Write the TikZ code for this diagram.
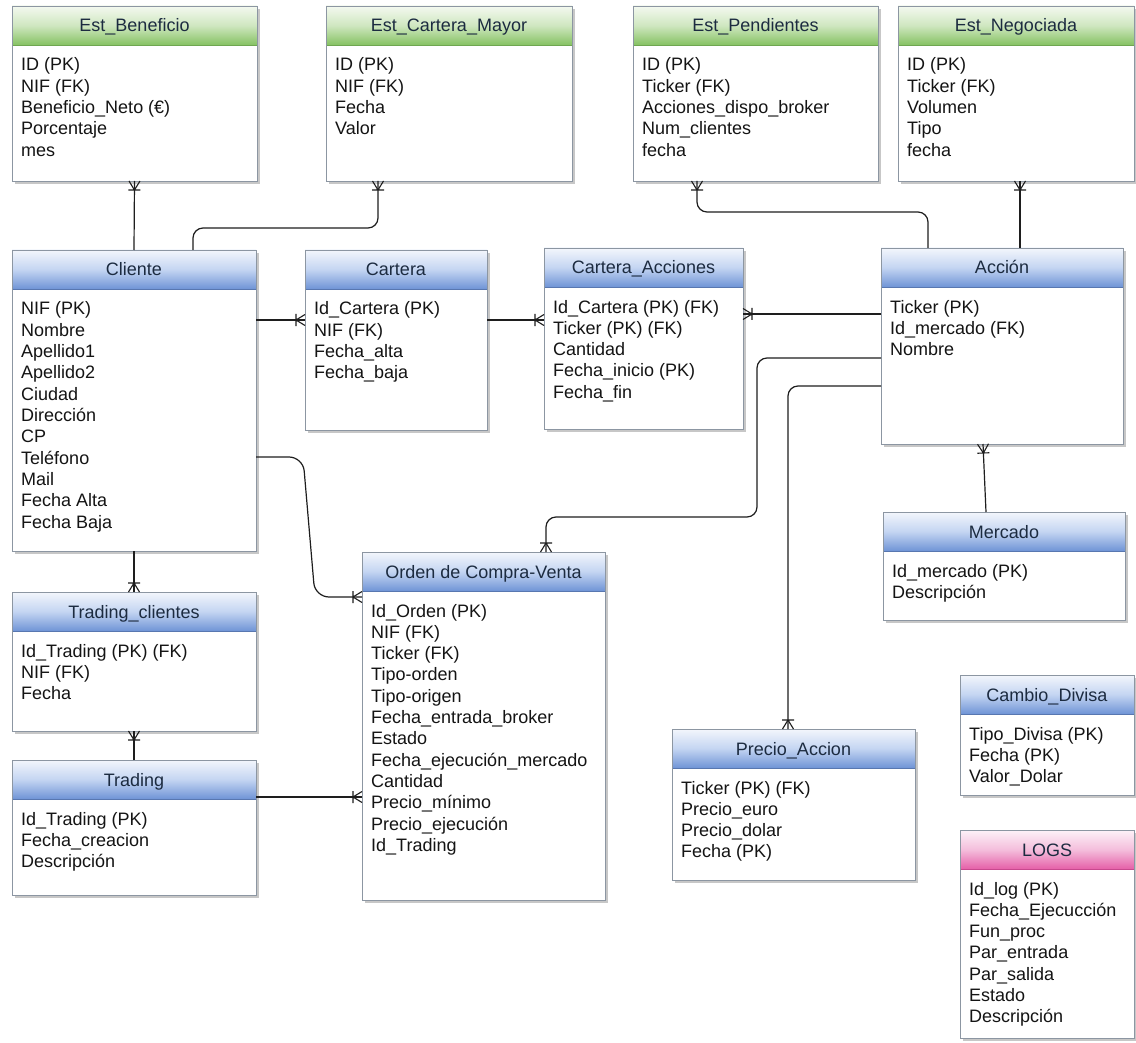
\documentclass[tikz,border=0pt]{standalone}
\usepackage{fontspec}
\setmainfont{Liberation Sans}
\usetikzlibrary{calc,shadows,decorations.markings}

\definecolor{edgegray}{HTML}{8C96A2}
\definecolor{linec}{HTML}{1E1E1E}
\definecolor{titlec}{HTML}{1C2B40}
\definecolor{rowc}{HTML}{141414}
\definecolor{blueT}{HTML}{F3F6FC}
\definecolor{blueM}{HTML}{C4D5F2}
\definecolor{blueB}{HTML}{6F94D6}
\definecolor{blueL}{HTML}{5877B0}
\definecolor{greenT}{HTML}{F4F9F0}
\definecolor{greenM}{HTML}{CFE7C0}
\definecolor{greenB}{HTML}{86C263}
\definecolor{greenL}{HTML}{6FA651}
\definecolor{pinkT}{HTML}{FDF2F8}
\definecolor{pinkM}{HTML}{F4BEDC}
\definecolor{pinkB}{HTML}{E560A8}
\definecolor{pinkL}{HTML}{C8488E}

\tikzset{
  tbl/.style={draw=edgegray, line width=0.8pt, fill=white, outer sep=0pt, inner sep=0pt,
    drop shadow={shadow xshift=2.5pt, shadow yshift=-3pt, fill=black, opacity=0.22}},
  hdrblue/.style={top color=blueT, bottom color=blueB, middle color=blueM},
  hdrgreen/.style={top color=greenT, bottom color=greenB, middle color=greenM},
  hdrpink/.style={top color=pinkT, bottom color=pinkB, middle color=pinkM},
  lineblue/.style={draw=blueL},
  linegreen/.style={draw=greenL},
  linepink/.style={draw=pinkL},
  ttl/.style={anchor=base, inner sep=0pt, text=titlec, font=\fontsize{18}{21.3}\selectfont},
  rowtxt/.style={anchor=base west, inner sep=0pt, text=rowc, font=\fontsize{18}{21.3}\selectfont},
  rel/.style={draw=linec, line width=1.2pt, rounded corners=10pt,
    postaction={decorate},
    decoration={markings, mark=at position 1 with {
      \draw[linec, line width=1.1pt, sharp corners]
        (-9,0) -- (0,5.5) (-9,0) -- (0,-5.5) (-9,-6) -- (-9,6);}}},
}

% table: name, x, y, width, height, colour scheme, title, rows
\newcommand\ertable[8]{%
  \node[tbl, minimum width=#4, minimum height=#5, anchor=north west] (#1) at (#2,#3) {};
  \shade[hdr#6] (#1.north west) rectangle ($(#1.north east)+(0,39)$);
  \draw[line#6, line width=0.8pt] ($(#1.north west)+(0,39)$) -- ($(#1.north east)+(0,39)$);
  \draw[edgegray, line width=0.8pt] (#1.north west) rectangle (#1.south east);
  \node[ttl] (#1-t) at ($(#1.north)+(0,26)$) {#7};
  \foreach \r [count=\i] in {#8}
    \node[rowtxt] (#1-r\i) at ($(#1.north west)+(9,{43.7+21.3*\i})$) {\r};
}

\begin{document}
\begin{tikzpicture}[x=1pt, y=-1pt]
\useasboundingbox[fill=white] (0,0) rectangle (1136,1043);

% statistics tables
\ertable{ben}{12}{6}{245}{175}{green}{Est\_Beneficio}
  {ID (PK), NIF (FK), Beneficio\_Neto (€), Porcentaje, mes}
\ertable{ecm}{326}{6}{246}{175}{green}{Est\_Cartera\_Mayor}
  {ID (PK), NIF (FK), Fecha, Valor}
\ertable{epe}{633}{6}{245}{175}{green}{Est\_Pendientes}
  {ID (PK), Ticker (FK), Acciones\_dispo\_broker, Num\_clientes, fecha}
\ertable{eng}{898}{6}{236}{175}{green}{Est\_Negociada}
  {ID (PK), Ticker (FK), Volumen, Tipo, fecha}

% core tables
\ertable{cli}{12}{250}{244}{301}{blue}{Cliente}
  {NIF (PK), Nombre, Apellido1, Apellido2, Ciudad, Dirección, CP, Teléfono, Mail, Fecha Alta, Fecha Baja}
\ertable{car}{305}{250}{182}{180}{blue}{Cartera}
  {Id\_Cartera (PK), NIF (FK), Fecha\_alta, Fecha\_baja}
\ertable{cac}{544}{248}{199}{181}{blue}{Cartera\_Acciones}
  {Id\_Cartera (PK) (FK), Ticker (PK) (FK), Cantidad, Fecha\_inicio (PK), Fecha\_fin}
\ertable{acc}{881}{248}{242}{196}{blue}{Acción}
  {Ticker (PK), Id\_mercado (FK), Nombre}
\ertable{mer}{883}{512}{242}{108}{blue}{Mercado}
  {Id\_mercado (PK), Descripción}
\ertable{trc}{12}{592}{244}{139}{blue}{Trading\_clientes}
  {Id\_Trading (PK) (FK), NIF (FK), Fecha}
\ertable{tra}{12}{760}{244}{135}{blue}{Trading}
  {Id\_Trading (PK), Fecha\_creacion, Descripción}
\ertable{ord}{362}{552}{243}{348}{blue}{Orden de Compra-Venta}
  {Id\_Orden (PK), NIF (FK), Ticker (FK), Tipo-orden, Tipo-origen, Fecha\_entrada\_broker, Estado,
   Fecha\_ejecución\_mercado, Cantidad, Precio\_mínimo, Precio\_ejecución, Id\_Trading}
\ertable{pre}{672}{729}{243}{151}{blue}{Precio\_Accion}
  {Ticker (PK) (FK), Precio\_euro, Precio\_dolar, Fecha (PK)}
\ertable{cam}{960}{675}{174}{120}{blue}{Cambio\_Divisa}
  {Tipo\_Divisa (PK), Fecha (PK), Valor\_Dolar}
\ertable{log}{960}{830}{174}{208}{pink}{LOGS}
  {Id\_log (PK), Fecha\_Ejecucción, Fun\_proc, Par\_entrada, Par\_salida, Estado, Descripción}

% relationships (crow's foot at the many side, end of each path)
\draw[rel] (cli.north) -- (ben.south);
\draw[rel] ($(cli.north west)+(181,0)$) |- ($(ecm.south west)+(52,47)$) -- ($(ecm.south west)+(52,0)$);
\draw[rel] ($(cli.north east)+(0,70)$) -- ($(car.north west)+(0,70)$);
\draw[rel] ($(car.north east)+(0,70)$) -- ($(cac.north west)+(0,72)$);
\draw[rel] ($(acc.north west)+(0,66)$) -- ($(cac.north east)+(0,66)$);
\draw[rel] ($(acc.north west)+(47,0)$) |- ($(epe.south west)+(64,31)$) -- ($(epe.south west)+(64,0)$);
\draw[rel] ($(acc.north west)+(139,0)$) -- ($(eng.south west)+(122,0)$);
\draw[rel] ($(acc.north west)+(0,110)$) -| ($(ord.north west)+(395,-35)$) -| ($(ord.north west)+(184,0)$);
\draw[rel] ($(acc.north west)+(0,138)$) -| ($(pre.north west)+(116,0)$);
\draw[rel] ($(mer.north west)+(103,0)$) -- ($(acc.south west)+(102,0)$);
\draw[rel, rounded corners=14pt] ($(cli.north east)+(0,207)$) -- ($(cli.north east)+(47,207)$)
  -- ($(ord.north west)+(-47,45)$) -- ($(ord.north west)+(0,45)$);
\draw[rel] (cli.south) -- (trc.north);
\draw[rel] (tra.north) -- (trc.south);
\draw[rel] ($(tra.north east)+(0,37)$) -- ($(ord.north west)+(0,245)$);
\end{tikzpicture}
\end{document}
